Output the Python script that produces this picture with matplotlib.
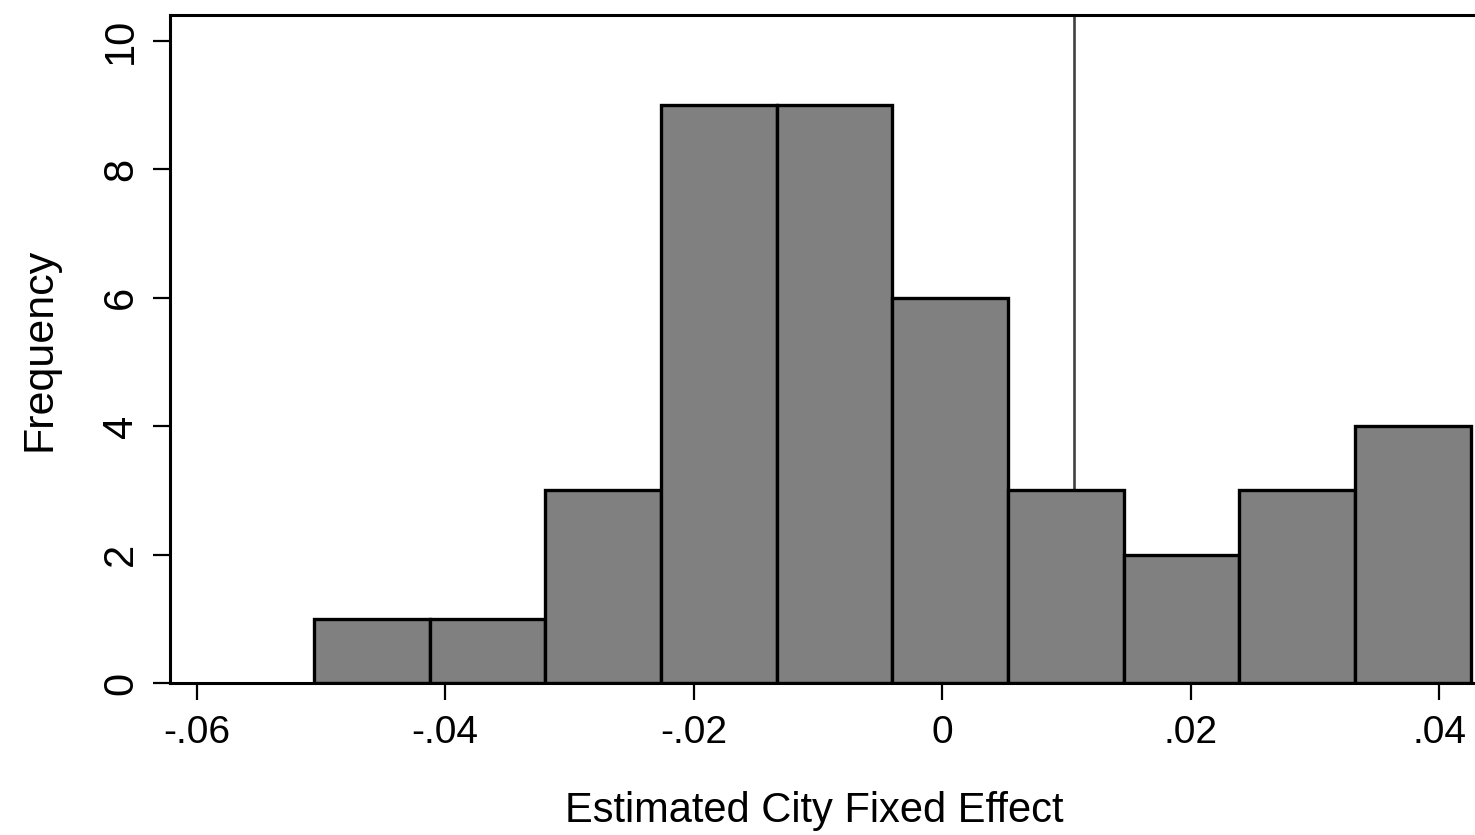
import numpy as np
import matplotlib
matplotlib.use("Agg")
import matplotlib.pyplot as plt

# histogram of estimated city fixed effects
bin_start = -0.05054
bin_width = 0.009304
counts = [1, 1, 3, 9, 9, 6, 3, 2, 3, 4]
ref_line = 0.01062

x_ticks = [-0.06, -0.04, -0.02, 0.0, 0.02, 0.04]
x_tick_labels = ["-.06", "-.04", "-.02", "0", ".02", ".04"]
y_ticks = [0, 2, 4, 6, 8, 10]

plt.rcParams['font.family'] = ['Liberation Sans', 'DejaVu Sans']

fig = plt.figure(figsize=(14.75, 8.35), dpi=100)
ax = fig.add_axes([0.1153, 0.182, 0.8857, 0.800])

edges = bin_start + bin_width * np.arange(len(counts))
ax.axvline(ref_line, color='#404040', lw=1.9, zorder=1)
ax.bar(edges, counts, width=bin_width, align='edge', color='#808080',
       edgecolor='black', linewidth=2.4, zorder=2)

ax.set_xlim(-0.06213, 0.04298)
ax.set_ylim(0, 10.405)

ax.set_xticks(x_ticks)
ax.set_xticklabels(x_tick_labels)
ax.set_yticks(y_ticks)
ax.set_yticklabels([str(v) for v in y_ticks], rotation=90, va='center')

ax.tick_params(axis='both', which='major', length=12, width=1.6, color='black')
ax.tick_params(axis='x', labelsize=28, pad=11)
ax.tick_params(axis='y', labelsize=30, pad=9)

for side in ['left', 'top', 'bottom']:
    ax.spines[side].set_linewidth(2.2)
    ax.spines[side].set_color('black')
ax.spines['right'].set_visible(False)

ax.set_xlabel("Estimated City Fixed Effect", fontsize=30, labelpad=29)
ax.xaxis.label.set_x(0.493)
ax.set_ylabel("Frequency", fontsize=31, labelpad=30)

fig.savefig("out.png", dpi=100)
